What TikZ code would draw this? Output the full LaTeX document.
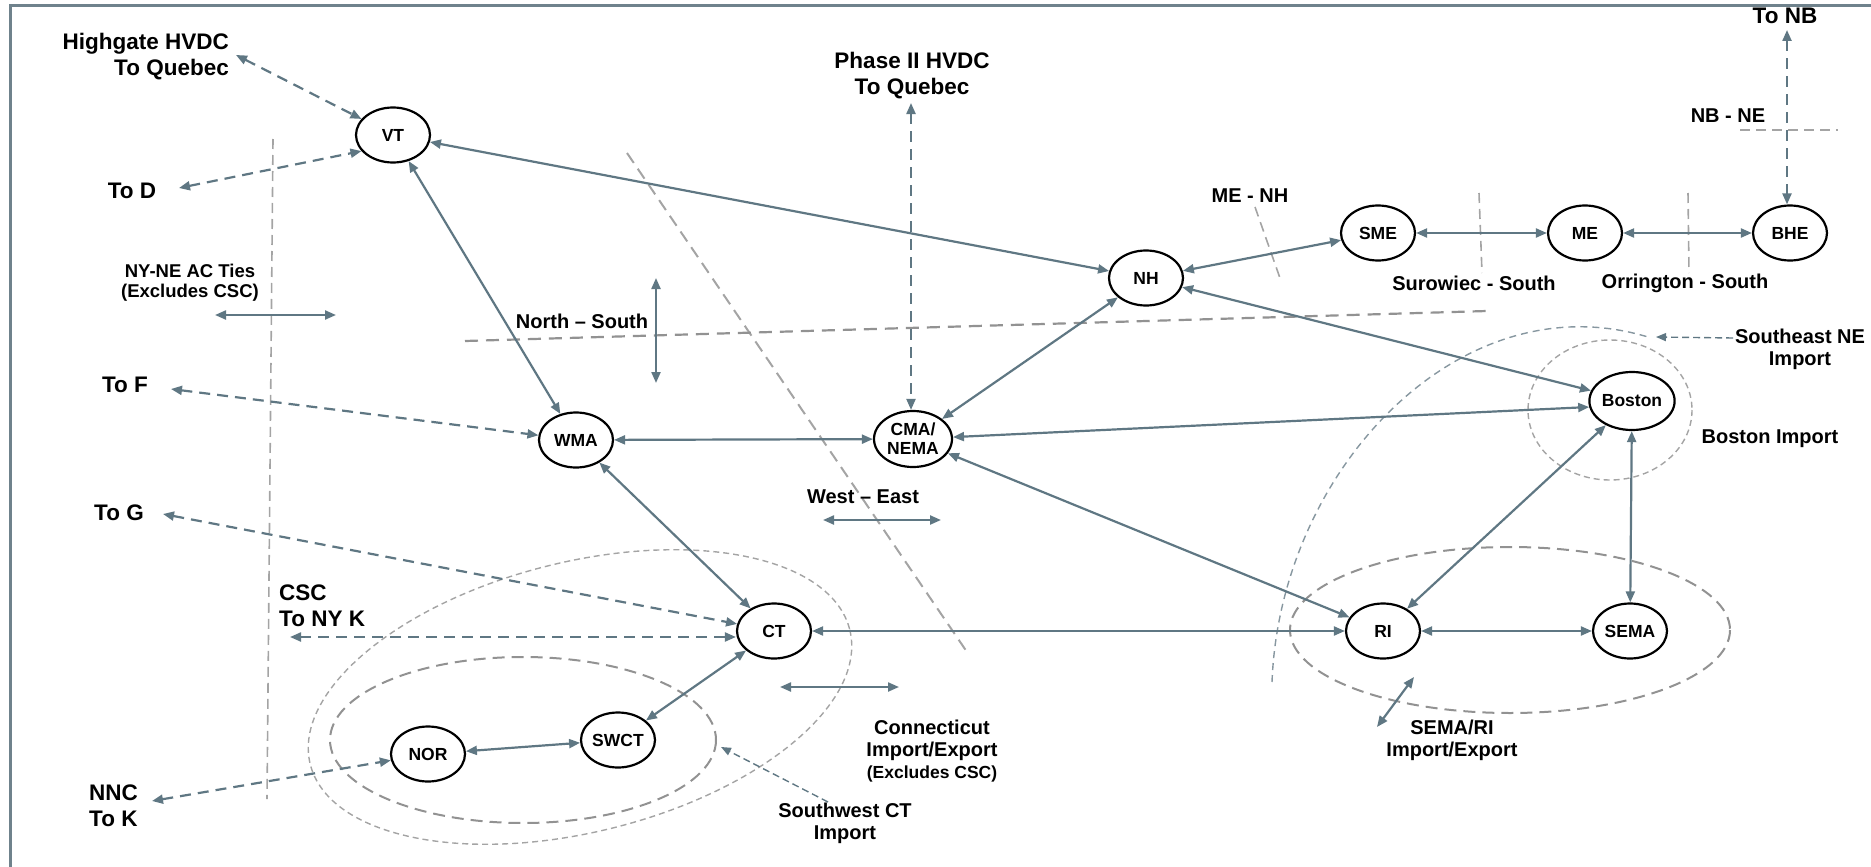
\documentclass[tikz,border=0pt]{standalone}
\usepackage{fontspec}
\setmainfont{Liberation Sans}
\usetikzlibrary{arrows.meta,calc,shapes.geometric}
\definecolor{slate}{HTML}{5F7783}
\definecolor{bgray}{HTML}{929292}
\definecolor{lgray}{HTML}{A4A4A4}
\definecolor{frm}{HTML}{6F828C}
\definecolor{seblue}{HTML}{8797A0}
\begin{document}
\begin{tikzpicture}[x=1pt,y=-1pt,
  nd/.style={draw=black, fill=white, line width=2.2pt, ellipse, minimum width=74pt, minimum height=55pt, inner sep=0pt, font=\fontsize{17.5}{19}\selectfont\bfseries, align=center},
  tip/.tip={Triangle[length=11pt,width=9pt]},
  conn/.style={slate, line width=2.2pt, tip-tip},
  dconn/.style={conn, dash pattern=on 11pt off 7pt},
  tconn/.style={slate, line width=1.4pt, dash pattern=on 7pt off 4pt, -{Triangle[length=10pt,width=8pt]}},
  bnd/.style={bgray, line width=2.2pt, dash pattern=on 13pt off 8pt},
  bndt/.style={lgray, line width=1.6pt, dash pattern=on 10pt off 6pt},
  thin/.style={lgray, line width=1.4pt, dash pattern=on 6pt off 4pt},
  lbig/.style={font=\fontsize{22.5}{26}\selectfont\bfseries, inner sep=0pt, align=center},
  lmid/.style={font=\fontsize{20}{22}\selectfont\bfseries, inner sep=0pt, align=center},
  lsm/.style={font=\fontsize{18.5}{20}\selectfont\bfseries, inner sep=0pt, align=center}]
\useasboundingbox (0,0) rectangle (1871,867);
% frame
\draw[frm, line width=3pt] (10,867) -- (10,6) -- (1871,6);

% boundaries
\draw[bndt] (273,139) -- (267,799);
\draw[lgray, line width=2pt, dash pattern=on 12pt off 7pt] (627,153) -- (967,652);
\draw[bnd] (465,341) -- (1487,311);
\draw[bndt] (1255,207) -- (1281,281);
\draw[bndt] (1479,193) -- (1482,273);
\draw[bndt] (1688,193) -- (1689,273);
\draw[bndt] (1740,130) -- (1838,130);
\draw[thin, rotate around={14:(580,697)}] (580,697) ellipse [x radius=278, y radius=135];
\draw[bnd, line width=2pt, dash pattern=on 12pt off 7pt] (523,740) ellipse [x radius=193, y radius=83];
\draw[thin] (1610,410) ellipse [x radius=82, y radius=70];
\draw[bnd, line width=2pt, dash pattern=on 12pt off 7pt] (1510,630) ellipse [x radius=220, y radius=83];
\draw[seblue, line width=1.4pt, dash pattern=on 7pt off 5pt] (1272,682) .. controls (1280,470) and (1460,280) .. (1648,337);

% nodes
\node[nd] (VT) at (393,135) {VT};
\node[nd] (NH) at (1146,278) {NH};
\node[nd] (SME) at (1378,233) {SME};
\node[nd] (ME) at (1585,233) {ME};
\node[nd] (BHE) at (1790,233) {BHE};
\node[nd] (WMA) at (576,440) {WMA};
\node[nd, minimum width=78pt, minimum height=56pt] (CMA) at (913,439) {CMA/\\NEMA};
\node[nd] (CT) at (774,631) {CT};
\node[nd] (NOR) at (428,754) {NOR};
\node[nd] (SWCT) at (618,740) {SWCT};
\node[nd, minimum width=84pt, minimum height=58pt] (BOS) at (1632,401) {Boston};
\node[nd] (RI) at (1383,631) {RI};
\node[nd] (SEMA) at (1630,631) {SEMA};

% labels
\node[lbig, anchor=east, align=right] (hg) at (229,57) {Highgate HVDC\\To Quebec};
\node[lbig] (toD) at (132,191) {To D};
\node[lsm] (nyne) at (190,283) {NY-NE AC Ties\\(Excludes CSC)};
\node[lbig] (toF) at (125,385) {To F};
\node[lbig] (toG) at (119,513) {To G};
\node[lbig, anchor=west, align=left] (csc) at (279,606) {CSC\\To NY K};
\node[lbig, anchor=west, align=left] (nnc) at (89,806) {NNC\\To K};
\node[lmid] (ns) at (582,321) {North -- South};
\node[lbig] (ph) at (912,76) {Phase II HVDC\\To Quebec};
\node[lmid] (we) at (863,497) {West -- East};
\node[lmid] (cil) at (932,751) {Connecticut\\Import/Export\\{\fontsize{17.5}{20}\selectfont (Excludes CSC)}};
\node[lmid] (swl) at (845,823) {Southwest CT\\Import};
\node[lmid] (menh) at (1250,196) {ME - NH};
\node[lmid] (sur) at (1474,283) {Surowiec - South};
\node[lmid] (orr) at (1685,283) {Orrington - South};
\node[lbig] (tonb) at (1785,16) {To NB};
\node[lmid] (nbne) at (1728,116) {NB - NE};
\node[lmid] (sene) at (1800,349) {Southeast NE\\Import};
\node[lmid] (bimp) at (1770,439) {Boston Import};
\node[lmid] (semari) at (1452,740) {SEMA/RI\\Import/Export};

% solid connectors
\draw[conn] (VT) -- (NH);
\draw[conn] (VT) -- (WMA);
\draw[conn] (WMA) -- (CMA);
\draw[conn] (WMA) -- (CT);
\draw[conn] (CT) -- (RI);
\draw[conn] (CT) -- (SWCT);
\draw[conn] (SWCT) -- (NOR);
\draw[conn] (CMA) -- (NH);
\draw[conn] (CMA) -- (BOS.188);
\draw[conn] (CMA) -- (RI);
\draw[conn] (NH) -- (SME);
\draw[conn] (SME) -- (ME);
\draw[conn] (ME) -- (BHE);
\draw[conn] (NH) -- (BOS);
\draw[conn] (BOS) -- (RI);
\draw[conn] (BOS) -- (SEMA);
\draw[conn] (RI) -- (SEMA);

% dashed external ties
\coordinate (hgA) at (236,55);
\coordinate (toDa) at (179,188);
\coordinate (toFa) at (171,389);
\coordinate (toGa) at (163,514);
\coordinate (cscA) at (290,637);
\coordinate (nncA) at (152,801);
\coordinate (phA) at (911,103);
\coordinate (nbA) at (1787,30);
\draw[dconn] (hgA) -- (VT);
\draw[dconn] (toDa) -- (VT.207);
\draw[dconn] (toFa) -- (WMA);
\draw[dconn] (toGa) -- (CT);
\draw[dconn] (cscA) -- (cscA -| CT.west);
\draw[dconn] (nncA) -- (NOR);
\draw[dconn] (phA) -- (phA |- CMA.north);
\draw[dconn] (nbA) -- (nbA |- BHE.north);

% thin pointer arrows
\coordinate (seA) at (1733,338);
\coordinate (seB) at (1656,337);
\coordinate (swA) at (828,802);
\coordinate (swB) at (721,747);
\draw[tconn] (seA) -- (seB);
\draw[tconn] (swA) -- (swB);

% interface arrows
\coordinate (nyA) at (215,315); \coordinate (nyB) at (336,315);
\coordinate (nsA) at (656,278); \coordinate (nsB) at (656,383);
\coordinate (weA) at (823,520); \coordinate (weB) at (941,520);
\coordinate (ciA) at (780,687); \coordinate (ciB) at (899,687);
\coordinate (srA) at (1377,727); \coordinate (srB) at (1414,677);
\draw[conn] (nyA) -- (nyB);
\draw[conn] (nsA) -- (nsB);
\draw[conn] (weA) -- (weB);
\draw[conn] (ciA) -- (ciB);
\draw[conn] (srA) -- (srB);
\end{tikzpicture}
\end{document}
